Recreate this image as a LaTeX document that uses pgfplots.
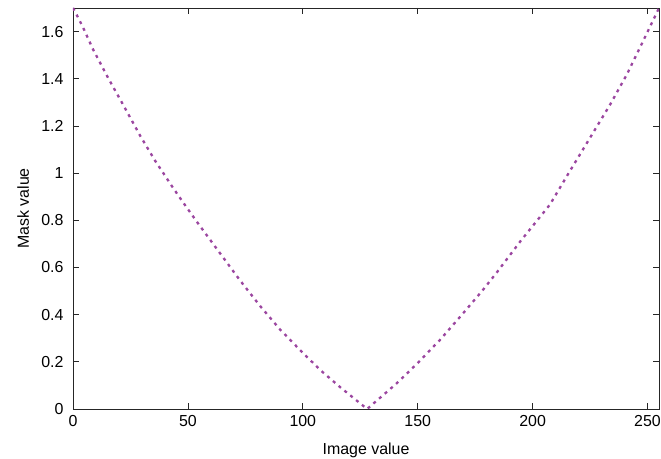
\documentclass[border=0pt]{standalone}
\usepackage{fontspec}
\setmainfont{Liberation Sans}
\usepackage{pgfplots}
\pgfplotsset{compat=1.18}

\definecolor{maskline}{RGB}{155,70,160}

\begin{document}
\fontsize{16}{19}\selectfont
\begin{tikzpicture}
\begin{axis}[
  name=ax,
  scale only axis,
  width=586bp, height=401bp,
  xmin=0, xmax=255, ymin=0, ymax=1.7,
  xtick={0,50,100,150,200,250},
  ytick={0,0.2,0.4,0.6,0.8,1,1.2,1.4,1.6},
  tick align=inside,
  major tick length=6bp,
  axis line style={line width=0.8bp, black!85},
  every tick/.style={line width=0.8bp, black!85},
  /pgf/number format/assume math mode=true,
  ticklabel style={font=\fontsize{16}{19}\selectfont},
  yticklabel style={xshift=-4bp},
  xticklabel style={yshift=-1bp},
  xlabel={Image value},
  ylabel={Mask value},
  xlabel style={at={(axis description cs:0.5,0)}, anchor=base, yshift=-45bp, font=\fontsize{16}{19}\selectfont},
  ylabel style={at={(axis description cs:0,0.5)}, anchor=base, yshift=44bp, font=\fontsize{16}{19}\selectfont},
]
\addplot[maskline, line width=2.3bp, line cap=butt, dash pattern=on 3bp off 4.5bp] coordinates {
  (0,1.700) (1.3,1.677) (4.4,1.617) (8.7,1.525) (15.2,1.405) (21.8,1.290)
  (29.2,1.159) (35.7,1.053) (43.5,0.938) (49.2,0.858) (55.3,0.775)
  (64,0.660) (72.7,0.545) (81.4,0.437) (90.1,0.337) (98.8,0.250)
  (107.5,0.166) (116.2,0.093) (128,0)
  (141,0.110) (149.7,0.192) (159.7,0.293) (169.7,0.405) (178.4,0.505)
  (184.5,0.580) (195,0.715) (207.5,0.866) (216.3,1.010) (225,1.150)
  (233.7,1.290) (241,1.418) (246.7,1.532) (252.4,1.647) (255,1.700)
};
\end{axis}
\pgfresetboundingbox
\path (ax.south west) ++(-73bp,-50bp) coordinate (bl);
\path (ax.north east) ++(2bp,8bp) coordinate (tr);
\path[use as bounding box] (bl) rectangle (tr);
\end{tikzpicture}
\end{document}
